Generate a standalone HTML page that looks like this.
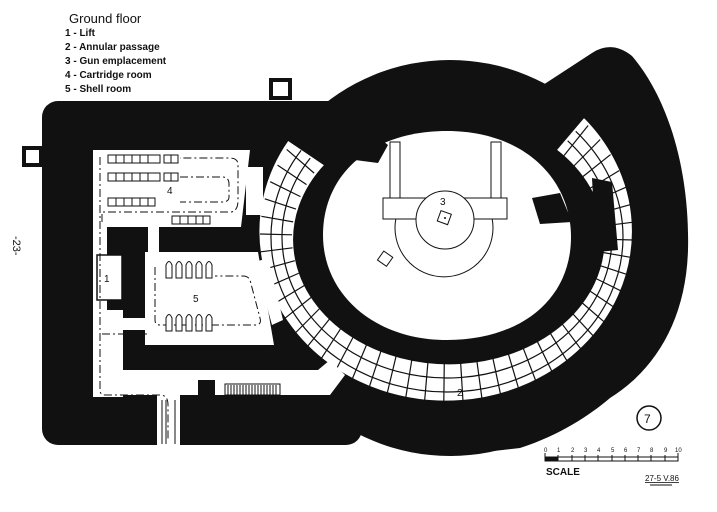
<!DOCTYPE html>
<html><head><meta charset="utf-8"><style>
html,body{margin:0;padding:0;background:#fff;}
svg{display:block;}
text{font-family:"Liberation Sans",sans-serif;}
</style></head><body>
<svg id="s" width="717" height="512" viewBox="0 0 717 512" xmlns="http://www.w3.org/2000/svg">
<rect width="717" height="512" fill="#fff"/>
<text x="69" y="23" font-size="13" fill="#111">Ground floor</text>
<g font-size="10" fill="#111" font-weight="bold">
<text x="65" y="36">1 - Lift</text>
<text x="65" y="50">2 - Annular passage</text>
<text x="65" y="64">3 - Gun emplacement</text>
<text x="65" y="78">4 - Cartridge room</text>
<text x="65" y="92">5 - Shell room</text>
</g>
<text x="0" y="0" font-size="11" fill="#111" transform="translate(13,236) rotate(90)">-23-</text>

<rect x="24" y="148" width="17" height="17" fill="#fff" stroke="#111" stroke-width="4"/>
<rect x="271" y="80" width="19" height="18" fill="#fff" stroke="#111" stroke-width="4"/>

<g fill="#111">
<rect x="42" y="101" width="320" height="344" rx="16"/>
<ellipse cx="450" cy="258" rx="200" ry="198"/>
<path d="M520,100 L592,53 Q612,40 632,56 C668,98 690,170 688,250 C686,320 655,370 610,398 C590,415 560,435 520,448 L450,456 Z"/>
</g>

<path d="M323,235 C323,175 370,131 447,131 C525,131 571,180 571,237 C571,300 520,340 447,340 C375,340 323,295 323,235 Z" fill="#fff"/>
<path d="M352,150 L370,131 L388,145 L378,163 L355,160 Z" fill="#111"/>
<path d="M532,198 L560,193 L572,222 L540,224 Z" fill="#111"/>

<g fill="none" stroke="#111" stroke-width="1">
<rect x="390" y="142" width="10" height="56" fill="#fff"/>
<rect x="491" y="142" width="10" height="56" fill="#fff"/>
<path d="M396,218 A49,49 0 1 0 492,218"/>
<rect x="383" y="198" width="124" height="21" fill="#fff"/>
<circle cx="445" cy="220" r="29" fill="#fff"/>
<rect x="439" y="212" width="11" height="11" transform="rotate(20 444 217)"/>
<rect x="380" y="253" width="11" height="11" transform="rotate(35 385 258)"/>
</g>
<circle cx="445" cy="218" r="1" fill="#111"/>
<text x="440" y="205" font-size="10" fill="#111">3</text>

<path id="pass" d="M584,117 A187,170 0 1 1 288,140 L325,165 A155,124 0 1 0 556,150 Z" fill="#fff" stroke="#111" stroke-width="1.5"/>
<g id="grid" stroke="#111" stroke-width="1.2" fill="none"></g>
<path d="M592,178 L612,182 L618,250 L598,252 L594,215 Z" fill="#111"/>
<text x="457" y="396" font-size="10" fill="#111">2</text>

<g fill="#fff">
<path d="M93,150 L250,150 L241,227 L93,227 Z"/>
<rect x="246" y="167" width="17" height="48"/>
<rect x="93" y="227" width="14" height="170"/>
<rect x="93" y="310" width="30" height="87"/>
<rect x="148" y="227" width="11" height="25"/>
<path d="M145,252 L258,252 L274,345 L145,345 Z"/>
<path d="M255,262 L268,258 L283,320 L272,325 Z"/>
<rect x="122" y="318" width="25" height="12"/>
<path d="M93,370 L318,370 L330,360 L345,375 L330,395 L93,395 Z"/>
<rect x="157" y="395" width="23" height="50"/>
</g>
<rect x="97" y="255" width="25" height="45" fill="#fff" stroke="#111" stroke-width="1.5"/>
<text x="104" y="282" font-size="10" fill="#111">1</text>
<rect x="198" y="380" width="17" height="16" fill="#111"/>
<rect x="225" y="384" width="55" height="11" fill="#fff" stroke="#111"/>
<g stroke="#111" stroke-width="1">
<path d="M228,385v10M231,385v10M234,385v10M237,385v10M240,385v10M243,385v10M246,385v10M249,385v10M252,385v10M255,385v10M258,385v10M261,385v10M264,385v10M267,385v10M270,385v10M273,385v10M276,385v10"/>
<path d="M162,400v44M166,400v44M175,400v44"/>
</g>
<g fill="none" stroke="#111" stroke-width="1" stroke-dasharray="8,3,2,3">
<path d="M100,157 V390 Q100,395 105,395 H160 Q168,395 168,405 V440"/>
<path d="M102,222 L102,212 H230 Q238,212 238,200 V165 Q238,158 230,158 H180"/>
<path d="M180,177 H222 Q229,177 229,184 V197 Q229,202 222,202 H180"/>
<path d="M102,334 H150"/>
<path d="M155,267 V320 Q155,325 160,325 H255 Q262,325 260,318 L250,280 Q248,276 243,276 H215"/>
</g>
<g fill="#fff" stroke="#111" stroke-width="1">
<rect x="108" y="155" width="52" height="8"/><rect x="164" y="155" width="14" height="8"/>
<rect x="108" y="173" width="52" height="8"/><rect x="164" y="173" width="14" height="8"/>
<rect x="108" y="198" width="47" height="8"/>
<rect x="172" y="216" width="38" height="8"/>
</g>
<g stroke="#111" stroke-width="1">
<path d="M116,155v8M124,155v8M132,155v8M140,155v8M148,155v8M171,155v8M116,173v8M124,173v8M132,173v8M140,173v8M148,173v8M171,173v8M116,198v8M124,198v8M132,198v8M140,198v8M148,198v8M180,216v8M188,216v8M196,216v8M203,216v8"/>
</g>
<text x="167" y="194" font-size="10" fill="#111">4</text>
<g fill="#fff" stroke="#111" stroke-width="1">
<path d="M166,278 V265 Q169,258 172,265 V278 Z M176,278 V265 Q179,258 182,265 V278 Z M186,278 V265 Q189,258 192,265 V278 Z M196,278 V265 Q199,258 202,265 V278 Z M206,278 V265 Q209,258 212,265 V278 Z"/>
<path d="M166,331 V318 Q169,311 172,318 V331 Z M176,331 V318 Q179,311 182,318 V331 Z M186,331 V318 Q189,311 192,318 V331 Z M196,331 V318 Q199,311 202,318 V331 Z M206,331 V318 Q209,311 212,318 V331 Z"/>
</g>
<text x="193" y="302" font-size="10" fill="#111">5</text>

<circle cx="649" cy="418" r="12" fill="none" stroke="#111" stroke-width="1.5"/>
<text x="644" y="423" font-size="12" fill="#111">7</text>
<g stroke="#111" stroke-width="1" fill="none">
<rect x="545" y="457" width="133" height="4"/>
<path d="M545,453v8M558,455v6M572,455v6M585,455v6M598,455v6M612,455v6M625,455v6M638,455v6M651,455v6M665,455v6M678,453v8"/>
</g>
<rect x="545" y="457" width="13" height="4" fill="#111"/>
<g font-size="6" fill="#111">
<text x="544" y="452">0</text><text x="557" y="452">1</text><text x="571" y="452">2</text><text x="584" y="452">3</text><text x="597" y="452">4</text><text x="611" y="452">5</text><text x="624" y="452">6</text><text x="637" y="452">7</text><text x="650" y="452">8</text><text x="664" y="452">9</text><text x="675" y="452">10</text>
</g>
<text x="546" y="475" font-size="10" font-weight="bold" fill="#111">SCALE</text>
<text x="645" y="481" font-size="8" fill="#111" text-decoration="underline">27-5 V.86</text>
<line x1="650" y1="485" x2="672" y2="485" stroke="#111"/>
</svg>
<script>
(function(){
var g=document.getElementById('grid');var ns='http://www.w3.org/2000/svg';
var cx=447,cy=237;
function pt(rx,ry,a){var r=a*Math.PI/180;return [cx+rx*Math.cos(r),cy+ry*Math.sin(r)];}
var radii=[[165,141],[176,155]];
var a0=-43,a1=214;
radii.forEach(function(R){var p0=pt(R[0],R[1],a0),p1=pt(R[0],R[1],a1);
var p=document.createElementNS(ns,'path');p.setAttribute('d','M'+p0+' A'+R[0]+','+R[1]+' 0 1 1 '+p1);g.appendChild(p);});
for(var a=a0+2;a<a1;a+=6){var p0=pt(155,124,a),p1=pt(187,170,a);
var l=document.createElementNS(ns,'line');l.setAttribute('x1',p0[0]);l.setAttribute('y1',p0[1]);l.setAttribute('x2',p1[0]);l.setAttribute('y2',p1[1]);g.appendChild(l);}
})();
</script>
</body></html>
